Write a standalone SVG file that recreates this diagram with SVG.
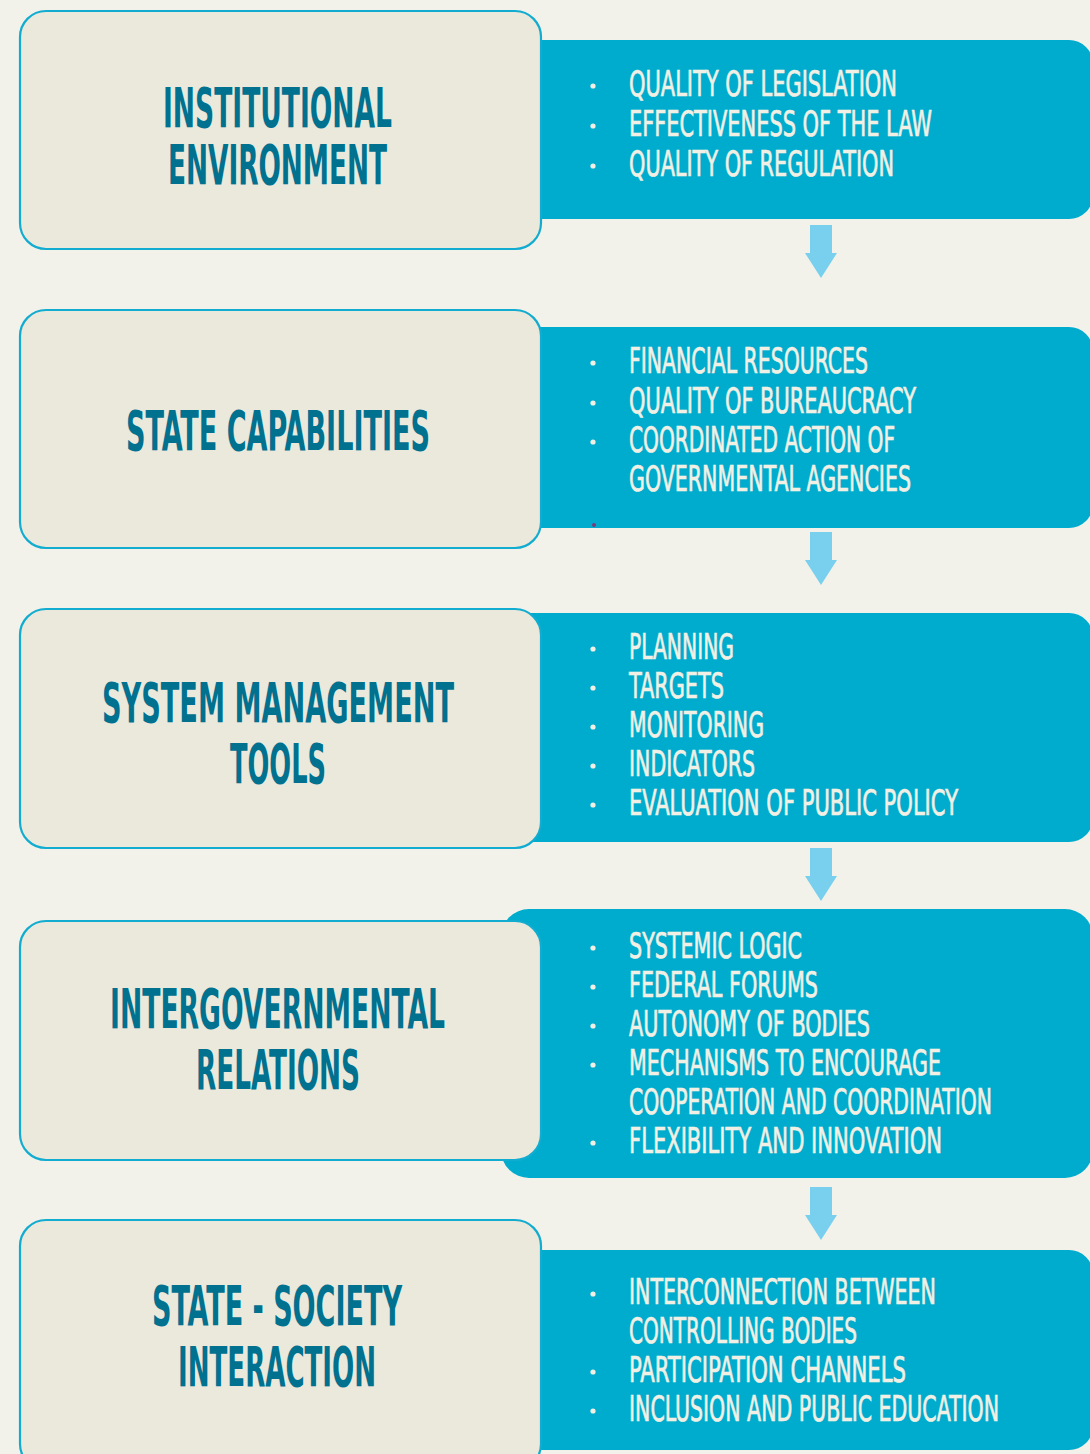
<svg xmlns="http://www.w3.org/2000/svg" width="1090" height="1454" viewBox="0 0 1090 1454">
<style>
.bg{fill:#f3f2ea}
.panel{fill:#00acce}
.box{fill:#ebe8dc;stroke:#12acd0;stroke-width:2.2}
.title{font-family:"Liberation Sans Narrow","DejaVu Sans Condensed","Liberation Sans",sans-serif;font-stretch:condensed;font-weight:bold;font-size:55px;fill:#00718f;text-anchor:start}
.item{font-family:"Liberation Sans Narrow","DejaVu Sans Condensed","Liberation Sans",sans-serif;font-stretch:condensed;font-weight:normal;font-size:35px;fill:#f2f0e4;stroke:#f2f0e4;stroke-width:0.7}
.dot{fill:#f2f0e4}
.arrow{fill:#78d0ee}
</style>
<rect class="bg" x="0" y="0" width="1090" height="1454"/>

<g id="connectors">
<polygon class="arrow" points="810,225 832,225 832,253 837,253 821,278 805,253 810,253"/>
<polygon class="arrow" points="810,532 832,532 832,560 837,560 821,585 805,560 810,560"/>
<polygon class="arrow" points="810,848 832,848 832,876 837,876 821,901 805,876 810,876"/>
<polygon class="arrow" points="810,1187 832,1187 832,1215 837,1215 821,1240 805,1215 810,1215"/>
</g>

<g id="node-institutional">
<rect class="panel" x="500" y="40" width="593" height="179" rx="24"/>
<rect class="box" x="20" y="11" width="521" height="238" rx="26"/>
<text class="title" x="163" y="127" textLength="229" lengthAdjust="spacingAndGlyphs">INSTITUTIONAL</text>
<text class="title" x="168" y="184" textLength="219" lengthAdjust="spacingAndGlyphs">ENVIRONMENT</text>
<circle class="dot" cx="593" cy="86" r="2.6"/>
<circle class="dot" cx="593" cy="126" r="2.6"/>
<circle class="dot" cx="593" cy="166" r="2.6"/>
<text class="item" x="629" y="96" textLength="268" lengthAdjust="spacingAndGlyphs">QUALITY OF LEGISLATION</text>
<text class="item" x="629" y="136" textLength="303" lengthAdjust="spacingAndGlyphs">EFFECTIVENESS OF THE LAW</text>
<text class="item" x="629" y="176" textLength="265" lengthAdjust="spacingAndGlyphs">QUALITY OF REGULATION</text>
</g>

<g id="node-state-capabilities">
<rect class="panel" x="500" y="327" width="593" height="201" rx="24"/>
<rect class="box" x="20" y="310" width="521" height="238" rx="26"/>
<text class="title" x="126" y="450" textLength="304" lengthAdjust="spacingAndGlyphs">STATE CAPABILITIES</text>
<circle class="dot" cx="593" cy="363" r="2.6"/>
<circle class="dot" cx="593" cy="403" r="2.6"/>
<circle class="dot" cx="593" cy="442" r="2.6"/>
<circle cx="594" cy="525" r="2" fill="#7a3b7a"/>
<text class="item" x="629" y="373" textLength="239" lengthAdjust="spacingAndGlyphs">FINANCIAL RESOURCES</text>
<text class="item" x="629" y="413" textLength="287" lengthAdjust="spacingAndGlyphs">QUALITY OF BUREAUCRACY</text>
<text class="item" x="629" y="452" textLength="266" lengthAdjust="spacingAndGlyphs">COORDINATED ACTION OF</text>
<text class="item" x="629" y="491" textLength="282" lengthAdjust="spacingAndGlyphs">GOVERNMENTAL AGENCIES</text>
</g>

<g id="node-system-management">
<rect class="panel" x="500" y="613" width="593" height="229" rx="24"/>
<rect class="box" x="20" y="609" width="521" height="239" rx="26"/>
<text class="title" x="102" y="722" textLength="352" lengthAdjust="spacingAndGlyphs">SYSTEM MANAGEMENT</text>
<text class="title" x="230" y="783" textLength="96" lengthAdjust="spacingAndGlyphs">TOOLS</text>
<circle class="dot" cx="593" cy="649" r="2.6"/>
<circle class="dot" cx="593" cy="688" r="2.6"/>
<circle class="dot" cx="593" cy="727" r="2.6"/>
<circle class="dot" cx="593" cy="766" r="2.6"/>
<circle class="dot" cx="593" cy="805" r="2.6"/>
<text class="item" x="629" y="659" textLength="105" lengthAdjust="spacingAndGlyphs">PLANNING</text>
<text class="item" x="629" y="698" textLength="95" lengthAdjust="spacingAndGlyphs">TARGETS</text>
<text class="item" x="629" y="737" textLength="135" lengthAdjust="spacingAndGlyphs">MONITORING</text>
<text class="item" x="629" y="776" textLength="126" lengthAdjust="spacingAndGlyphs">INDICATORS</text>
<text class="item" x="629" y="815" textLength="329" lengthAdjust="spacingAndGlyphs">EVALUATION OF PUBLIC POLICY</text>
</g>

<g id="node-intergovernmental">
<rect class="panel" x="501" y="909" width="592" height="269" rx="28"/>
<rect class="box" x="20" y="921" width="521" height="239" rx="26"/>
<text class="title" x="110" y="1028" textLength="335" lengthAdjust="spacingAndGlyphs">INTERGOVERNMENTAL</text>
<text class="title" x="196" y="1089" textLength="164" lengthAdjust="spacingAndGlyphs">RELATIONS</text>
<circle class="dot" cx="593" cy="948" r="2.6"/>
<circle class="dot" cx="593" cy="987" r="2.6"/>
<circle class="dot" cx="593" cy="1026" r="2.6"/>
<circle class="dot" cx="593" cy="1065" r="2.6"/>
<circle class="dot" cx="593" cy="1143" r="2.6"/>
<text class="item" x="629" y="958" textLength="173" lengthAdjust="spacingAndGlyphs">SYSTEMIC LOGIC</text>
<text class="item" x="629" y="997" textLength="189" lengthAdjust="spacingAndGlyphs">FEDERAL FORUMS</text>
<text class="item" x="629" y="1036" textLength="241" lengthAdjust="spacingAndGlyphs">AUTONOMY OF BODIES</text>
<text class="item" x="629" y="1075" textLength="312" lengthAdjust="spacingAndGlyphs">MECHANISMS TO ENCOURAGE</text>
<text class="item" x="629" y="1114" textLength="363" lengthAdjust="spacingAndGlyphs">COOPERATION AND COORDINATION</text>
<text class="item" x="629" y="1153" textLength="313" lengthAdjust="spacingAndGlyphs">FLEXIBILITY AND INNOVATION</text>
</g>

<g id="node-state-society">
<rect class="panel" x="500" y="1250" width="593" height="200" rx="24"/>
<rect class="box" x="20" y="1220" width="521" height="250" rx="26"/>
<text class="title" x="152" y="1325" textLength="250" lengthAdjust="spacingAndGlyphs">STATE - SOCIETY</text>
<text class="title" x="178" y="1386" textLength="198" lengthAdjust="spacingAndGlyphs">INTERACTION</text>
<circle class="dot" cx="593" cy="1294" r="2.6"/>
<circle class="dot" cx="593" cy="1372" r="2.6"/>
<circle class="dot" cx="593" cy="1411" r="2.6"/>
<text class="item" x="629" y="1304" textLength="307" lengthAdjust="spacingAndGlyphs">INTERCONNECTION BETWEEN</text>
<text class="item" x="629" y="1343" textLength="228" lengthAdjust="spacingAndGlyphs">CONTROLLING BODIES</text>
<text class="item" x="629" y="1382" textLength="277" lengthAdjust="spacingAndGlyphs">PARTICIPATION CHANNELS</text>
<text class="item" x="629" y="1421" textLength="370" lengthAdjust="spacingAndGlyphs">INCLUSION AND PUBLIC EDUCATION</text>
</g>
</svg>
